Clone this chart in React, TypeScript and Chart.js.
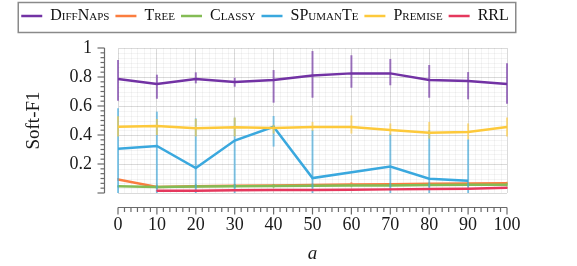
import React, { useEffect, useRef } from "react";
import { Chart, registerables } from "chart.js";

Chart.register(...registerables);

// ---------- data ----------
const aValues = [0, 10, 20, 30, 40, 50, 60, 70, 80, 90, 100];
const xTickLabels = ["0", "10", "20", "30", "40", "50", "60", "70", "80", "90", "100"];
const yTickLabels = ["", "0.2", "0.4", "0.6", "0.8", "1"];
const seriesNames = ["DiffNaps", "Tree", "Classy", "SPumanTe", "Premise", "RRL"];

const diffNapsMean = [0.786, 0.752, 0.786, 0.766, 0.779, 0.81, 0.825, 0.825, 0.78, 0.772, 0.752];
const diffNapsLow = [0.637, 0.65, 0.756, 0.733, 0.623, 0.657, 0.726, 0.743, 0.657, 0.646, 0.616];
const diffNapsHigh = [0.917, 0.816, 0.832, 0.795, 0.848, 0.979, 0.95, 0.924, 0.883, 0.834, 0.894];

const treeMean = [0.094, 0.041, 0.047, 0.05, 0.052, 0.055, 0.058, 0.06, 0.063, 0.065, 0.067];
const treeLow = [0.084, 0.031, 0.037, 0.04, 0.042, 0.045, 0.048, 0.05, 0.053, 0.055, 0.057];
const treeHigh = [0.104, 0.051, 0.057, 0.06, 0.062, 0.065, 0.075, 0.07, 0.073, 0.075, 0.077];

const classyMean = [0.046, 0.042, 0.045, 0.046, 0.048, 0.05, 0.051, 0.052, 0.055, 0.057, 0.057];
const classyLow = [0.038, 0.03, 0.032, 0.033, 0.035, 0.038, 0.04, 0.04, 0.043, 0.045, 0.045];
const classyHigh = [0.054, 0.058, 0.06, 0.062, 0.062, 0.062, 0.063, 0.066, 0.067, 0.069, 0.07];

const spumanteMean = [0.306, 0.324, 0.172, 0.362, 0.457, 0.103, null, 0.183, 0.099, 0.085, null];
const spumanteLow = [0, 0, 0, 0, 0.32, 0, null, 0, 0, 0, null];
const spumanteHigh = [0.584, 0.561, 0.515, 0.52, 0.531, 0.434, null, 0.41, 0.434, 0.37, null];

const premiseMean = [0.457, 0.462, 0.446, 0.453, 0.448, 0.455, 0.455, 0.434, 0.416, 0.421, 0.455];
const premiseLow = [0.39, 0.4, 0.39, 0.39, 0.41, 0.43, 0.41, 0.4, 0.375, 0.37, 0.39];
const premiseHigh = [0.53, 0.51, 0.51, 0.52, 0.47, 0.49, 0.535, 0.48, 0.49, 0.48, 0.52];

const rrlMean = [null, 0.016, 0.016, 0.019, 0.02, 0.02, 0.022, 0.025, 0.028, 0.03, 0.036];
const rrlLow = [null, 0.01, 0.01, 0.013, 0.014, 0.014, 0.016, 0.019, 0.022, 0.024, 0.03];
const rrlHigh = [null, 0.022, 0.022, 0.025, 0.026, 0.026, 0.028, 0.031, 0.034, 0.036, 0.042];

const lineColors = ["#7232a4", "#fb7d3f", "#84bc55", "#3aa8de", "#fdc93b", "#e5385d"];
const errColors = [
  "rgba(114,50,164,0.65)",
  "rgba(251,125,63,0.6)",
  "rgba(132,188,85,0.6)",
  "rgba(58,168,222,0.6)",
  "rgba(253,201,59,0.6)",
  "rgba(229,56,93,0.6)",
];

const means = [diffNapsMean, treeMean, classyMean, spumanteMean, premiseMean, rrlMean];
const lows = [diffNapsLow, treeLow, classyLow, spumanteLow, premiseLow, rrlLow];
const highs = [diffNapsHigh, treeHigh, classyHigh, spumanteHigh, premiseHigh, rrlHigh];

const SERIF = "Liberation Serif, DejaVu Serif, serif";

// ---------- plugins ----------
const legendPatch = {
  id: "legendPatch",
  beforeUpdate(chart: any) {
    const lg = chart.legend;
    if (lg && !lg.__patched) {
      const orig = lg.fit;
      lg.fit = function () {
        this.maxWidth = 640;
        orig.call(this);
        this.height = 46;
      };
      lg.__patched = true;
    }
  },
  afterLayout(chart: any) {
    const lg = chart.legend;
    if (!lg) return;
    lg.left = 0;
    lg.right = 530;
    lg.width = 530;
  },
  afterDraw(chart: any) {
    const lg = chart.legend;
    if (!lg || !lg.legendHitBoxes || !lg.legendHitBoxes.length) return;
    const hb = lg.legendHitBoxes;
    const first = hb[0];
    const last = hb[hb.length - 1];
    const x0 = first.left - 3;
    const x1 = last.left + last.width + 7;
    const y0 = lg.top + 0.5;
    const y1 = y0 + 30;
    const ctx = chart.ctx;
    ctx.save();
    ctx.strokeStyle = "#8a8a8a";
    ctx.lineWidth = 1.5;
    ctx.strokeRect(x0, y0, x1 - x0, y1 - y0);
    ctx.restore();
  },
};

const minorGrid = {
  id: "minorGrid",
  beforeDatasetsDraw(chart: any) {
    const { ctx, chartArea, scales } = chart;
    const xs = scales.x;
    const ys = scales.y;
    ctx.save();
    ctx.strokeStyle = "rgba(0,0,0,0.045)";
    ctx.lineWidth = 1;
    for (let k = 0; k <= 60; k++) {
      if (k % 6 === 0) continue;
      const px = Math.round(xs.getPixelForValue((k * 10) / 6)) + 0.5;
      ctx.beginPath();
      ctx.moveTo(px, chartArea.top);
      ctx.lineTo(px, chartArea.bottom);
      ctx.stroke();
    }
    for (let k = 0; k <= 30; k++) {
      if (k % 6 === 0) continue;
      const py = Math.round(ys.getPixelForValue((k * 0.2) / 6)) + 0.5;
      ctx.beginPath();
      ctx.moveTo(chartArea.left, py);
      ctx.lineTo(chartArea.right, py);
      ctx.stroke();
    }
    ctx.restore();
  },
};

const errorBars = {
  id: "errorBars",
  beforeDatasetDraw(chart: any, args: any) {
    const ds = chart.data.datasets[args.index];
    const lo = ds.errLow;
    const hi = ds.errHigh;
    if (!lo || !hi) return;
    const { ctx, chartArea, scales } = chart;
    ctx.save();
    ctx.beginPath();
    ctx.rect(chartArea.left - 4, chartArea.top, chartArea.width + 8, chartArea.height);
    ctx.clip();
    ctx.strokeStyle = ds.errColor;
    ctx.lineWidth = 2;
    aValues.forEach((a, i) => {
      if (lo[i] == null || hi[i] == null) return;
      const px = scales.x.getPixelForValue(a);
      ctx.beginPath();
      ctx.moveTo(px, scales.y.getPixelForValue(lo[i]));
      ctx.lineTo(px, scales.y.getPixelForValue(hi[i]));
      ctx.stroke();
    });
    ctx.restore();
  },
};

const offsetAxes = {
  id: "offsetAxes",
  afterDraw(chart: any) {
    const { ctx, chartArea, scales } = chart;
    const xs = scales.x;
    const ys = scales.y;
    ctx.save();
    ctx.strokeStyle = "#6a6a6a";
    ctx.lineWidth = 1.2;
    const ax = chartArea.left - 13.5;
    const yTop = ys.getPixelForValue(1);
    const yBot = ys.getPixelForValue(0);
    ctx.beginPath();
    ctx.moveTo(ax, yTop);
    ctx.lineTo(ax, yBot);
    ctx.stroke();
    for (let k = 0; k <= 30; k++) {
      const py = ys.getPixelForValue(k / 30);
      const len = k % 6 === 0 ? 7 : 4;
      ctx.beginPath();
      ctx.moveTo(ax - len, py);
      ctx.lineTo(ax, py);
      ctx.stroke();
    }
    const ay = chartArea.bottom + 14.5;
    const xL = xs.getPixelForValue(0);
    const xR = xs.getPixelForValue(100);
    ctx.beginPath();
    ctx.moveTo(xL, ay);
    ctx.lineTo(xR, ay);
    ctx.stroke();
    for (let k = 0; k <= 60; k++) {
      const px = xs.getPixelForValue((k * 10) / 6);
      const len = k % 6 === 0 ? 7 : 4.5;
      ctx.beginPath();
      ctx.moveTo(px, ay);
      ctx.lineTo(px, ay + len);
      ctx.stroke();
    }
    ctx.restore();
  },
};

export default function App() {
  const ref = useRef<HTMLCanvasElement | null>(null);

  useEffect(() => {
    if (!ref.current) return;
    const datasets = seriesNames.map((name, si) => ({
      label: name,
      data: aValues.map((a, i) => ({ x: a, y: means[si][i] })),
      borderColor: lineColors[si],
      backgroundColor: lineColors[si],
      borderWidth: 2.5,
      pointRadius: 0,
      pointHoverRadius: 0,
      tension: 0,
      spanGaps: true,
      order: seriesNames.length - 1 - si,
      errLow: lows[si],
      errHigh: highs[si],
      errColor: errColors[si],
    }));

    const chart = new Chart(ref.current, {
      type: "line",
      data: { datasets: datasets as any },
      plugins: [legendPatch, minorGrid, errorBars, offsetAxes],
      options: {
        animation: false,
        responsive: false,
        devicePixelRatio: 1,
        layout: { padding: { top: 2, left: 16, right: 70, bottom: 1 } },
        plugins: {
          tooltip: { enabled: false },
          legend: {
            position: "top",
            align: "center",
            labels: {
              usePointStyle: true,
              pointStyle: "line",
              pointStyleWidth: 21,
              padding: 6,
              color: "#111",
              font: { family: SERIF, size: 16, weight: "small-caps" as any },
              sort: (a: any, b: any) => a.datasetIndex - b.datasetIndex,
            },
          },
        },
        scales: {
          x: {
            type: "linear",
            min: 0,
            max: 100,
            afterFit: (s: any) => {
              s.height = 72;
            },
            ticks: {
              stepSize: 10,
              autoSkip: false,
              maxRotation: 0,
              padding: 21,
              color: "#1a1a1a",
              font: { family: SERIF, size: 18 },
              callback: (_v: any, idx: number) => xTickLabels[idx],
            },
            grid: { color: "#dadada", drawTicks: false, lineWidth: 1 },
            border: { display: false },
            title: {
              display: true,
              text: "a",
              color: "#1a1a1a",
              font: { family: SERIF, size: 19, style: "italic" },
              padding: { top: 0, bottom: 0 },
            },
          },
          y: {
            type: "linear",
            min: 0,
            max: 1,
            afterFit: (s: any) => {
              s.width = 102;
            },
            ticks: {
              stepSize: 0.2,
              padding: 26,
              color: "#1a1a1a",
              font: { family: SERIF, size: 18 },
              callback: (_v: any, idx: number) => yTickLabels[idx],
            },
            grid: { color: "#dadada", drawTicks: false, lineWidth: 1 },
            border: { display: false },
            title: {
              display: true,
              text: "Soft-F1",
              color: "#1a1a1a",
              font: { family: SERIF, size: 19 },
              padding: { top: 7, bottom: 0 },
            },
          },
        },
      } as any,
    });
    return () => chart.destroy();
  }, []);

  return (
    <div style={{ position: "absolute", left: 0, top: 0, width: 577, height: 266 }}>
      <canvas ref={ref} width={577} height={266} style={{ width: 577, height: 266, display: "block" }} />
    </div>
  );
}
